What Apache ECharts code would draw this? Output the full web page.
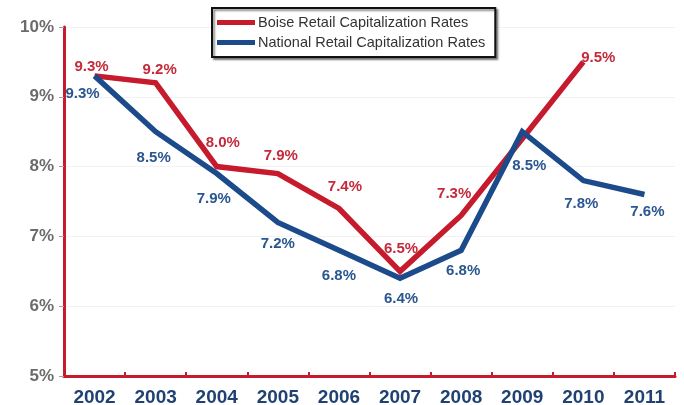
<!DOCTYPE html>
<html>
<head>
<meta charset="utf-8">
<script src="https://cdn.jsdelivr.net/npm/echarts@6/dist/echarts.min.js"></script>
<style>
  html, body { margin: 0; padding: 0; background: #fff; }
  #chart { width: 684px; height: 405px; }
</style>
</head>
<body>
<div id="chart"></div>
<script>
// Retail capitalization rates, Boise vs. national, 2002-2011
const years = ['2002', '2003', '2004', '2005', '2006', '2007', '2008', '2009', '2010', '2011'];
const boiseRates = [9.3, 9.2, 8.0, 7.9, 7.4, 6.5, 7.3, 8.4, 9.5, null];
const nationalRates = [9.3, 8.5, 7.9, 7.2, 6.8, 6.4, 6.8, 8.5, 7.8, 7.6];
const yTicks = [5, 6, 7, 8, 9, 10];

const RED = '#c61a2d';
const BLUE = '#1c4b8b';
const LABEL_FONT = '"Liberation Sans", Arial, sans-serif';

// label placement per point (offsets in px); null hides the label
const boiseLabelOffsets = [[-3, 4], [4, 1], [6, -10], [3, -4], [6, -8], [1, -9], [-7, -8], null, [15, 9], null];
const nationalLabelOffsets = [[-12, 2], [-2, 11], [-3, 10], [0, 6], [0, 10], [1, 5], [2, 5], [7, 19], [-2, 8], [3, 2]];

function buildData(values, offsets, pos) {
  return values.map((v, i) => {
    const off = offsets[i];
    return {
      value: v,
      label: off ? { show: true, position: pos, offset: off } : { show: false }
    };
  });
}

const chart = echarts.init(document.getElementById('chart'), null, { renderer: 'canvas' });

chart.setOption({
  animation: false,
  backgroundColor: '#ffffff',
  grid: { left: 64, right: 9, top: 27, bottom: 29, containLabel: false, outerBoundsMode: 'none' },
  legend: {
    left: 212,
    top: 8,
    orient: 'vertical',
    itemWidth: 38,
    itemHeight: 5,
    itemGap: 5,
    padding: [7, 10, 7, 5],
    backgroundColor: '#ffffff',
    borderColor: '#111',
    borderWidth: 2,
    shadowColor: 'rgba(0,0,0,0.45)',
    shadowOffsetX: 2,
    shadowOffsetY: 2,
    shadowBlur: 2,
    icon: 'rect',
    textStyle: { fontFamily: 'Liberation Sans, Arial', fontSize: 14.5, color: '#333', padding: [0, 0, 0, -2] },
    data: ['Boise Retail Capitalization Rates', 'National Retail Capitalization Rates']
  },
  xAxis: {
    type: 'category',
    data: years,
    boundaryGap: true,
    axisLine: { show: true, lineStyle: { color: RED, width: 3 } },
    axisTick: { show: true, inside: true, length: 4, lineStyle: { color: RED, width: 2 } },
    axisLabel: {
      margin: 12,
      fontFamily: 'Liberation Sans, Arial',
      fontWeight: 'bold',
      fontSize: 19,
      color: '#1f4273'
    },
    splitLine: { show: false }
  },
  yAxis: {
    type: 'value',
    min: yTicks[0],
    max: yTicks[yTicks.length - 1],
    interval: 1,
    axisLine: { show: true, lineStyle: { color: RED, width: 3 } },
    axisTick: { show: true, length: 5, lineStyle: { color: '#a0a0a0', width: 1 } },
    axisLabel: {
      margin: 10,
      fontFamily: 'Liberation Sans, Arial',
      fontWeight: 'bold',
      fontSize: 17,
      color: '#6b6b6b',
      formatter: v => v + '%'
    },
    splitLine: { show: true, lineStyle: { color: '#f2f2f2', width: 1 } }
  },
  series: [
    {
      name: 'Boise Retail Capitalization Rates',
      type: 'line',
      data: buildData(boiseRates, boiseLabelOffsets, 'top'),
      symbol: 'circle',
      symbolSize: 0,
      showSymbol: true,
      connectNulls: false,
      lineStyle: { color: RED, width: 5.5, join: 'miter' },
      itemStyle: { color: RED },
      label: {
        show: true,
        distance: 6,
        fontFamily: LABEL_FONT,
        fontWeight: 'bold',
        fontSize: 15,
        color: '#c42a3a',
        formatter: p => p.value.toFixed(1) + '%'
      },
      z: 2
    },
    {
      name: 'National Retail Capitalization Rates',
      type: 'line',
      data: buildData(nationalRates, nationalLabelOffsets, 'bottom'),
      symbol: 'circle',
      symbolSize: 0,
      showSymbol: true,
      lineStyle: { color: BLUE, width: 5.5, join: 'miter' },
      itemStyle: { color: BLUE },
      label: {
        show: true,
        distance: 8,
        fontFamily: LABEL_FONT,
        fontWeight: 'bold',
        fontSize: 15,
        color: '#2a5690',
        formatter: p => p.value.toFixed(1) + '%'
      },
      z: 3
    }
  ]
});
</script>
</body>
</html>
